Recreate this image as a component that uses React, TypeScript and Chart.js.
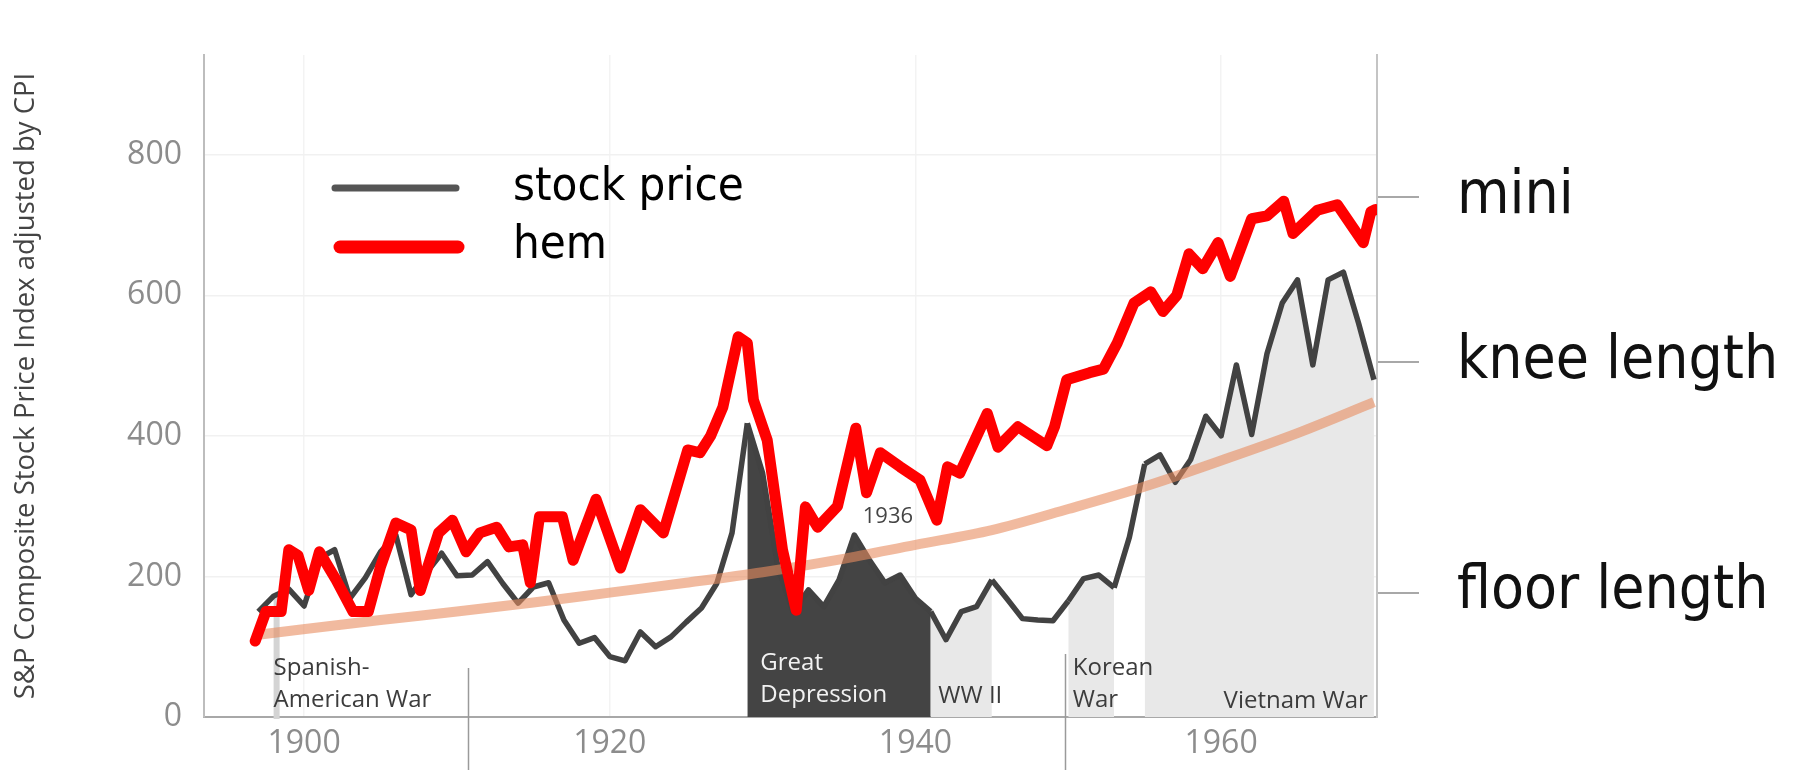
import React, { useEffect, useRef } from 'react';
import { Chart, registerables } from 'chart.js';

Chart.register(...registerables);

// ---------- data ----------
const stockYears = [
  1897, 1898, 1899, 1900, 1901, 1902, 1903, 1904, 1905, 1906, 1907, 1908, 1909, 1910,
  1911, 1912, 1913, 1914, 1915, 1916, 1917, 1918, 1919, 1920, 1921, 1922, 1923, 1924,
  1925, 1926, 1927, 1928, 1929, 1930, 1931, 1932, 1933, 1934, 1935, 1936, 1937, 1938,
  1939, 1940, 1941, 1942, 1943, 1944, 1945, 1946, 1947, 1948, 1949, 1950, 1951, 1952,
  1953, 1954, 1955, 1956, 1957, 1958, 1959, 1960, 1961, 1962, 1963, 1964, 1965, 1966,
  1967, 1968, 1969, 1970,
];
const stockValues = [
  150, 172, 182, 158, 226, 238, 169, 198, 235, 259, 174, 205, 233, 201,
  202, 221, 190, 162, 185, 191, 138, 105, 113, 86, 80, 121, 100, 114,
  135, 155, 190, 262, 418, 347, 214, 150, 181, 157, 195, 259, 223, 191,
  202, 169, 150, 110, 150, 157, 195, 168, 140, 138, 137, 165, 197, 202,
  184, 256, 360, 373, 334, 366, 428, 400, 501, 402, 517, 589, 622, 501,
  622, 633, 560, 480,
];

const hemYears = [
  1896.8, 1897.5, 1898.5, 1899.0, 1899.6, 1900.3, 1901.0, 1902.1, 1903.2, 1904.2,
  1905.0, 1906.0, 1907.0, 1907.6, 1908.8, 1909.7, 1910.6, 1911.5, 1912.6, 1913.4,
  1914.3, 1914.8, 1915.4, 1916.9, 1917.6, 1919.1, 1920.7, 1922.0, 1923.5, 1925.1,
  1925.9, 1926.6, 1927.4, 1928.4, 1929.0, 1929.4, 1930.3, 1931.3, 1932.2, 1932.8,
  1933.6, 1934.9, 1936.1, 1936.8, 1937.7, 1939.0, 1940.3, 1941.4, 1942.1, 1942.9,
  1944.7, 1945.4, 1946.7, 1948.6, 1949.1, 1949.9, 1951.4, 1952.3, 1953.2, 1954.3,
  1955.4, 1956.2, 1957.1, 1957.9, 1958.8, 1959.8, 1960.6, 1962.0, 1963.0, 1964.1,
  1964.7, 1966.3, 1967.6, 1969.3, 1969.8, 1970.1,
];
const hemValues = [
  108, 150, 150, 238, 230, 180, 235, 195, 150, 150,
  214, 276, 266, 180, 262, 280, 235, 262, 270, 242,
  245, 191, 285, 285, 223, 310, 212, 295, 262, 380,
  376, 400, 441, 541, 532, 451, 394, 238, 152, 299,
  270, 300, 411, 319, 376, 356, 337, 280, 356, 347,
  432, 384, 413, 386, 413, 480, 490, 495, 532, 589,
  605, 577, 600, 659, 638, 675, 627, 709, 713, 734,
  688, 721, 729, 675, 719, 722,
];

const trendYears = [1897, 1905, 1910, 1915, 1920, 1925, 1930, 1935, 1940, 1945, 1950, 1955, 1960, 1965, 1970];
const trendValues = [117, 138, 150, 163, 177, 191, 206, 224, 245, 266, 296, 328, 365, 404, 448];

const xTickValues = [1900, 1920, 1940, 1960];
const yTickValues = [0, 200, 400, 600, 800];
const hemTickValues = [740, 505, 177];
const hemTickLabels = ['mini', 'knee length', 'floor length'];

const warNames = ['Great Depression', 'WW II', 'Korean War', 'Vietnam War'];
const warStarts = [1929, 1941, 1950, 1955];
const warEnds = [1941, 1945, 1953, 1970];
const warFills = ['#444444', '#e8e8e8', '#e8e8e8', '#e8e8e8'];

const spanishWarYear = 1898.2;
const spanishWarStockYear = 1898;

const yTitle = 'S&P Composite Stock Price Index adjusted by CPI';

// ---------- styles / annotations ----------
const uiFont = "'Open Sans', 'Noto Sans', sans-serif";
const bigFont = "'DejaVu Sans Condensed', 'DejaVu Sans', sans-serif";

const warLabels = [
  { lines: ['Spanish-', 'American War'], year: 1898.0, bottomOffset: 10, color: '#3c3c3c', align: 'left' },
  { lines: ['Great', 'Depression'], year: 1929.85, bottomOffset: 15, color: '#f2f2f2', align: 'left' },
  { lines: ['WW II'], year: 1941.5, bottomOffset: 14, color: '#3c3c3c', align: 'left' },
  { lines: ['Korean', 'War'], year: 1950.3, bottomOffset: 10, color: '#3c3c3c', align: 'left' },
  { lines: ['Vietnam War'], year: 1969.6, bottomOffset: 9, color: '#3c3c3c', align: 'right' },
];
const yearNote = { text: '1936', year: 1938.2, value: 276 };
const separators = [
  { year: 1910.7, topOffset: 49 },
  { year: 1949.8, topOffset: 63 },
];

function warFillFor(x0: number): string {
  for (let i = 0; i < warNames.length; i++) {
    if (x0 >= warStarts[i] && x0 < warEnds[i]) return warFills[i];
  }
  return 'rgba(0,0,0,0)';
}

function noPad(s: any) {
  s.paddingTop = 0;
  s.paddingBottom = 0;
  s.paddingLeft = 0;
  s.paddingRight = 0;
}

const overlayPlugin = {
  id: 'overlay',
  beforeDatasetsDraw(chart: any) {
    const { ctx, scales } = chart;
    const x = scales.x;
    const y = scales.y;
    const v = stockValues[stockYears.indexOf(spanishWarStockYear)];
    const px = x.getPixelForValue(spanishWarYear);
    const top = y.getPixelForValue(v);
    const bottom = y.getPixelForValue(0);
    ctx.save();
    ctx.fillStyle = '#d4d4d4';
    ctx.fillRect(px - 3, top, 6, bottom - top + 2);
    ctx.restore();
  },
  afterDatasetsDraw(chart: any) {
    const { ctx, scales, chartArea } = chart;
    const x = scales.x;
    const y = scales.y;
    ctx.save();
    ctx.font = `24px ${uiFont}`;
    ctx.textBaseline = 'alphabetic';
    for (const lab of warLabels) {
      ctx.fillStyle = lab.color;
      ctx.textAlign = lab.align as CanvasTextAlign;
      const px = x.getPixelForValue(lab.year);
      const n = lab.lines.length;
      lab.lines.forEach((line, i) => {
        const by = chartArea.bottom - lab.bottomOffset - (n - 1 - i) * 32;
        ctx.fillText(line, px, by);
      });
    }
    ctx.font = `22px ${uiFont}`;
    ctx.fillStyle = '#444';
    ctx.textAlign = 'center';
    ctx.fillText(yearNote.text, x.getPixelForValue(yearNote.year), y.getPixelForValue(yearNote.value));
    ctx.restore();
  },
  afterDraw(chart: any) {
    const { ctx, scales, chartArea, data } = chart;
    const x = scales.x;
    ctx.save();
    // separators
    ctx.strokeStyle = '#9a9a9a';
    ctx.lineWidth = 1.5;
    for (const s of separators) {
      const px = Math.round(x.getPixelForValue(s.year)) + 0.5;
      ctx.beginPath();
      ctx.moveTo(px, chartArea.bottom - s.topOffset);
      ctx.lineTo(px, chart.height);
      ctx.stroke();
    }
    // legend
    const stock = data.datasets[2];
    const hem = data.datasets[0];
    ctx.lineCap = 'round';
    ctx.strokeStyle = '#555555';
    ctx.lineWidth = 7;
    ctx.beginPath();
    ctx.moveTo(335, 188);
    ctx.lineTo(456, 188);
    ctx.stroke();
    ctx.strokeStyle = hem.borderColor;
    ctx.lineWidth = 13;
    ctx.beginPath();
    ctx.moveTo(340, 247);
    ctx.lineTo(458, 247);
    ctx.stroke();
    ctx.fillStyle = '#000';
    ctx.font = `47px ${bigFont}`;
    ctx.textAlign = 'left';
    ctx.textBaseline = 'alphabetic';
    ctx.fillText(stock.label, 513, 200);
    ctx.fillText(hem.label, 513, 258);
    ctx.restore();
  },
};

export default function App() {
  const ref = useRef<HTMLCanvasElement>(null);
  useEffect(() => {
    document.body.style.margin = '0';
    const canvas = ref.current;
    if (!canvas) return;
    const chart = new Chart(canvas, {
      type: 'line',
      data: {
        datasets: [
          {
            label: 'hem',
            data: hemYears.map((yr, i) => ({ x: yr, y: hemValues[i] })),
            borderColor: '#ff0000',
            borderWidth: 11,
            pointRadius: 0,
            borderJoinStyle: 'round',
            borderCapStyle: 'round',
            fill: false,
            tension: 0,
            order: 0,
          },
          {
            label: 'trend',
            data: trendYears.map((yr, i) => ({ x: yr, y: trendValues[i] })),
            borderColor: 'rgba(232,140,95,0.6)',
            borderWidth: 10,
            pointRadius: 0,
            fill: false,
            tension: 0.4,
            cubicInterpolationMode: 'monotone',
            order: 1,
          },
          {
            label: 'stock price',
            data: stockYears.map((yr, i) => ({ x: yr, y: stockValues[i] })),
            borderColor: '#424242',
            borderWidth: 5.5,
            pointRadius: 0,
            borderJoinStyle: 'round',
            tension: 0,
            fill: 'origin',
            backgroundColor: 'rgba(0,0,0,0)',
            segment: {
              backgroundColor: (c: any) => warFillFor(c.p0.parsed.x),
            },
            order: 2,
          },
        ] as any,
      },
      options: {
        responsive: false,
        animation: false,
        devicePixelRatio: 1,
        layout: { padding: { top: 55, left: 0, right: 0, bottom: 0 } },
        plugins: {
          legend: { display: false },
          tooltip: { enabled: false },
        },
        scales: {
          x: {
            type: 'linear',
            min: 1893.45,
            max: 1970.2,
            afterBuildTicks: (s: any) => {
              s.ticks = xTickValues.map((v) => ({ value: v }));
            },
            afterFit: (s: any) => {
              s.height = 53;
              noPad(s);
            },
            grid: { color: '#f3f3f3', lineWidth: 1.5, drawTicks: false },
            border: { color: '#a8a8a8', width: 2 },
            ticks: {
              padding: 8,
              color: '#8c8c8c',
              font: { family: uiFont, size: 32 },
              maxRotation: 0,
              autoSkip: false,
              callback: (v: any) => String(v),
            },
          },
          y: {
            type: 'linear',
            position: 'left',
            min: 0,
            max: 942,
            afterBuildTicks: (s: any) => {
              s.ticks = yTickValues.map((v) => ({ value: v }));
            },
            afterFit: (s: any) => {
              s.width = 204;
              noPad(s);
            },
            grid: { color: '#f1f1f1', lineWidth: 1.5, drawTicks: false },
            border: { color: '#bdbdbd', width: 2 },
            ticks: {
              padding: 22,
              color: '#8c8c8c',
              font: { family: uiFont, size: 32 },
              callback: (v: any) => String(v),
            },
            title: {
              display: true,
              text: yTitle,
              color: '#444444',
              font: { family: uiFont, size: 27.5 },
              padding: { top: 10, bottom: 0 },
            },
          },
          y2: {
            type: 'linear',
            position: 'right',
            min: 0,
            max: 942,
            afterBuildTicks: (s: any) => {
              s.ticks = hemTickValues.map((v) => ({ value: v }));
            },
            afterFit: (s: any) => {
              s.width = 422;
              noPad(s);
            },
            grid: { drawOnChartArea: false, color: '#a8a8a8', lineWidth: 2, tickLength: 42 },
            border: { color: '#c4c4c4', width: 2 },
            ticks: {
              padding: 38,
              color: '#111111',
              font: { family: bigFont, size: 60 },
              callback: (v: any) => hemTickLabels[hemTickValues.indexOf(v)] ?? '',
            },
          },
        },
      } as any,
      plugins: [overlayPlugin],
    });
    return () => chart.destroy();
  }, []);
  return (
    <div style={{ width: 1799, height: 770 }}>
      <canvas ref={ref} width={1799} height={770} style={{ display: 'block' }} />
    </div>
  );
}
